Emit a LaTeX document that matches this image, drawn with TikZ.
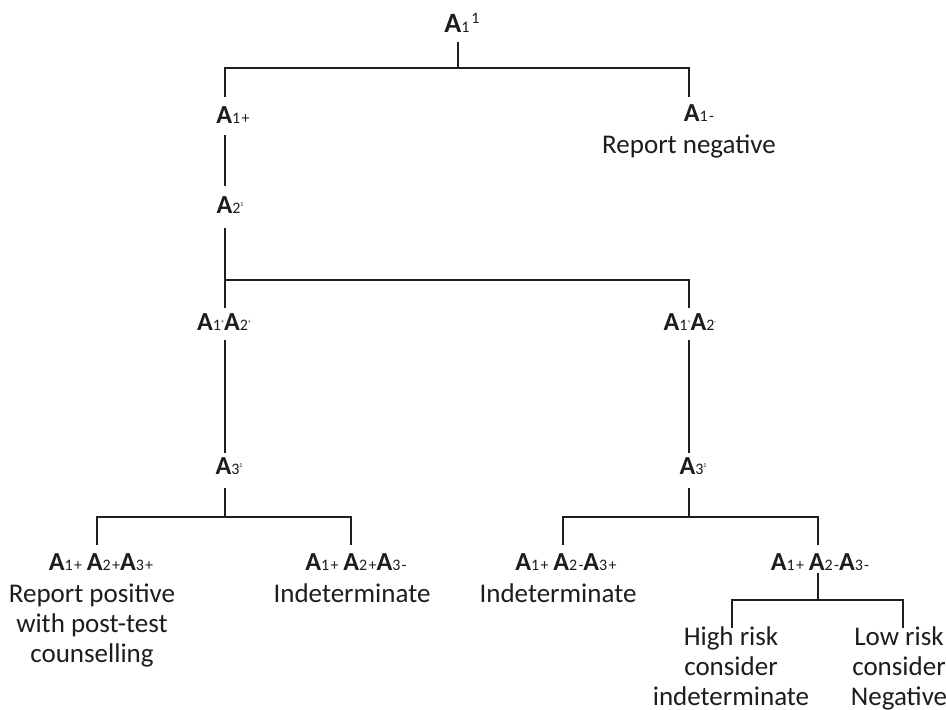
\documentclass[tikz,border=0pt]{standalone}
\usepackage{fontspec}
\setmainfont{Carlito}
\newfontfamily\codefont[LetterSpace=8]{Carlito}
\usetikzlibrary{calc}
\definecolor{ink}{RGB}{28,28,34}
\definecolor{linegray}{RGB}{30,30,30}
% bold test letter followed by its index, set on the same baseline
\newcommand\gA[1]{{\codefont\fontsize{26}{26}\selectfont\bfseries A}{\codefont\fontsize{16}{16}\selectfont #1}}
% tiny raised mark after an index
\newcommand\tsup[1]{\raisebox{7pt}{\codefont\fontsize{6}{6}\selectfont #1}}
\begin{document}
\begin{tikzpicture}[x=1pt,y=-1pt,
  conn/.style={line width=2.8pt, draw=linegray},
  code/.style={anchor=base, inner sep=0pt, text height=16pt, text depth=0pt, text=ink, font=\codefont\fontsize{16}{16}\selectfont},
  lbl/.style={anchor=base, inner sep=0pt, align=center, text=ink, font=\fontsize{27}{30}\selectfont}]
\useasboundingbox (0,0) rectangle (946,710);

% stem positions and junctions
\coordinate (xTop) at (458,0);
\coordinate (xL) at (225,0);
\coordinate (xR) at (689,0);
\coordinate (xLL) at (97,0);
\coordinate (xLR) at (351,0);
\coordinate (xRL) at (563,0);
\coordinate (xRR) at (818,0);
\coordinate (xHL) at (732,0);
\coordinate (xHR) at (903,0);
\coordinate (j0) at (458,68);
\coordinate (j1) at (225,280);
\coordinate (jL) at (225,517);
\coordinate (jR) at (689,517);
\coordinate (jH) at (818,600);

% test results
\node[code] (top) at (462,32) {{\fontsize{28}{28}\selectfont\bfseries A}{\fontsize{16}{16}\selectfont 1}\hspace{2pt}\raisebox{9pt}{\fontsize{16}{16}\selectfont 1}};
\node[code] (a1p) at (233,123) {\gA{1+}};
\node[code] (a1m) at (699,121) {\gA{1-}};
\node[lbl] (a1mtxt) at (689,153) {Report negative};
\node[code] (a2) at (230,213) {\gA{2}\tsup{1}};
\node[code] (a12p) at (224,330) {\gA{1}\tsup{+}\gA{2}\tsup{+}};
\node[code] (a12m) at (690,330) {\gA{1}\tsup{+}\gA{2}\tsup{-}};
\node[code] (a3L) at (229,474) {\gA{3}\tsup{1}};
\node[code] (a3R) at (693,474) {\gA{3}\tsup{1}};
\node[code] (c1) at (101,570) {\gA{1+} \gA{2+}\gA{3+}};
\node[lbl] (c1txt) at (92,662) {Report positive\\with post-test\\counselling};
\node[code] (c2) at (356,570) {\gA{1+} \gA{2+}\gA{3-}};
\node[lbl] (c2txt) at (352,602) {Indeterminate};
\node[code] (c3) at (566,570) {\gA{1+} \gA{2-}\gA{3+}};
\node[lbl] (c3txt) at (558,602) {Indeterminate};
\node[code] (c4) at (820,570) {\gA{1+} \gA{2-}\gA{3-}};
\node[lbl] (h1) at (731,705) {High risk\\consider\\indeterminate};
\node[lbl] (h2) at (899,705) {Low risk\\consider\\Negative};

% first test
\draw[conn] ($(top.base -| xTop)+(0,10)$) -- (j0);
\draw[conn] ($(a1p.north -| xL)+(0,-10)$) |- (j0) -| ($(a1m.north -| xR)+(0,-8)$);
% second test
\draw[conn] ($(a1p.base -| xL)+(0,12)$) -- ($(a2.north -| xL)+(0,-11)$);
\draw[conn] ($(a2.base -| xL)+(0,15)$) -- ($(a12p.north -| xL)+(0,-6)$);
\draw[conn] (j1) -| ($(a12m.north -| xR)+(0,-6)$);
% third test, positive branch
\draw[conn] ($(a12p.base -| xL)+(0,10)$) -- ($(a3L.north -| xL)+(0,-5)$);
\draw[conn] ($(a3L.base -| xL)+(0,14)$) -- (jL);
\draw[conn] ($(c1.north -| xLL)+(0,-9)$) |- (jL) -| ($(c2.north -| xLR)+(0,-9)$);
% third test, negative branch
\draw[conn] ($(a12m.base -| xR)+(0,10)$) -- ($(a3R.north -| xR)+(0,-5)$);
\draw[conn] ($(a3R.base -| xR)+(0,14)$) -- (jR);
\draw[conn] ($(c3.north -| xRL)+(0,-9)$) |- (jR) -| ($(c4.north -| xRR)+(0,-9)$);
% risk split
\draw[conn] ($(c4.base -| xRR)+(0,3)$) -- (jH);
\draw[conn] ($(h1.north -| xHL)+(0,2)$) |- (jH) -| ($(h2.north -| xHR)+(0,2)$);
\end{tikzpicture}
\end{document}
